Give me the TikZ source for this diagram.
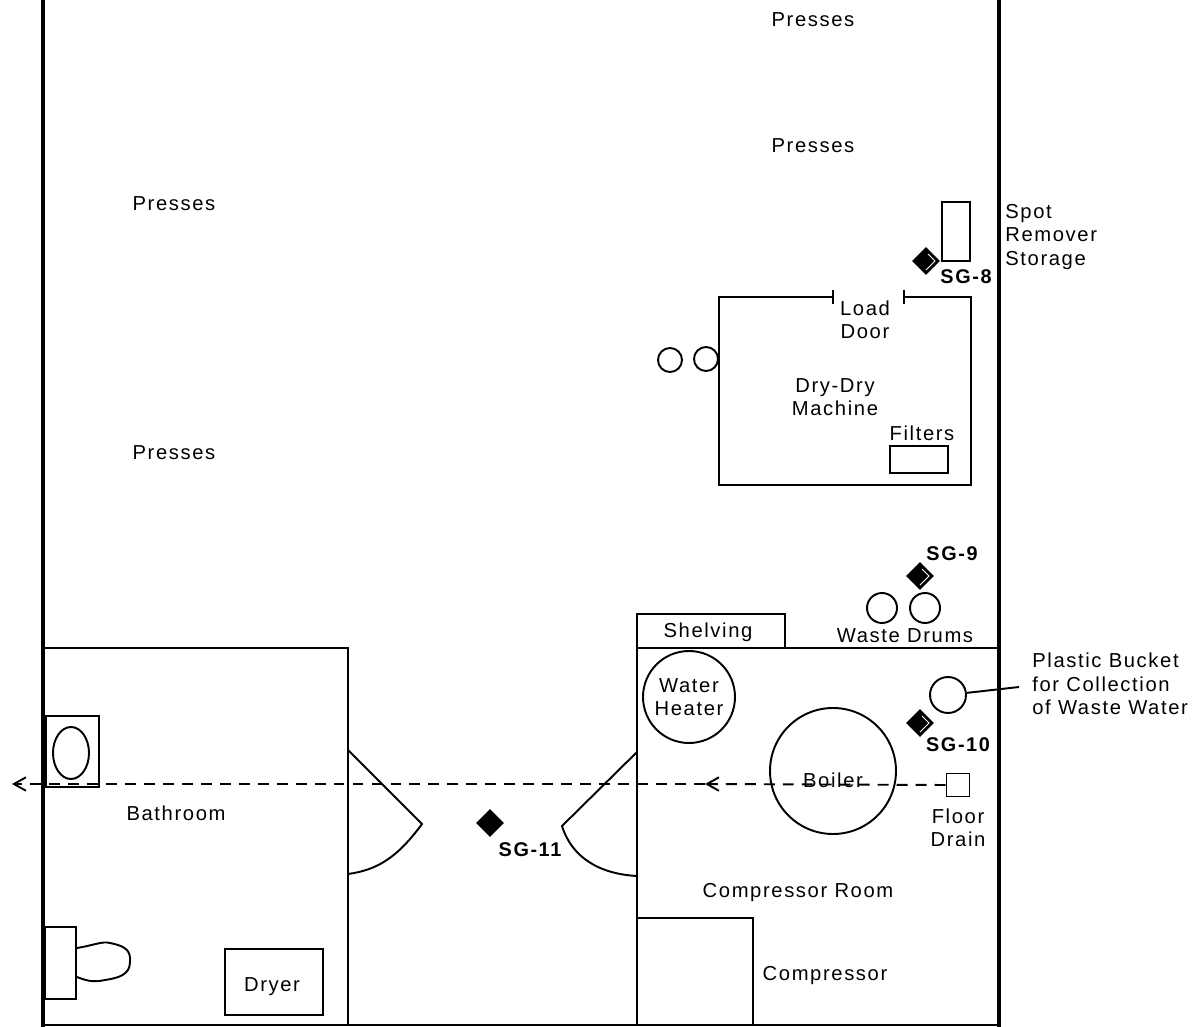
\documentclass[tikz,border=0pt]{standalone}
\usepackage{fontspec}
\setmainfont[LetterSpace=8]{Liberation Sans}
\usetikzlibrary{shapes.geometric,arrows.meta}
\tikzset{
  >={Straight Barb[length=0.24cm,width=0.27cm]},
  wall/.style={line width=2.4pt},
  part/.style={line width=1.1pt},
  flow/.style={line width=1.1pt,dash pattern=on 6.2pt off 4.6pt},
  label/.style={font=\fontsize{11.5}{13.4}\selectfont,align=center,inner sep=0pt},
  sglabel/.style={font=\fontsize{11.3}{13.4}\selectfont\bfseries,inner sep=0pt},
  sgmark/.style={diamond,fill=black,inner sep=0pt,minimum size=0.56cm},
  round/.style={circle,draw,part,inner sep=0pt},
}

\begin{document}
\begin{tikzpicture}[x=0.02cm,y=-0.02cm]
    \useasboundingbox (0,0) rectangle (1198,1027);
    % outer walls
    \begin{scope}[wall]
      \draw (43,0)--(43,1027);
      \draw (999,0)--(999,1027);
      \draw (45,716)--(45,787);
      \draw (44,927)--(44,999);
    \end{scope}
    \draw[line width=.7pt] (43,1025)--(999,1025);
    \begin{scope}[part]
      % bathroom
      \draw (43,648)--(348,648)--(348,1025);
      \draw (348,750)--(422,824) .. controls (397,858) and (377,870) .. (348,874);
      \draw (46,716) rectangle (99,787);
      \draw (71,753) ellipse (18 and 26);
      \draw (45,927) rectangle (76,999);
      \draw (77,948) .. controls (95,945) and (102,941) .. (110,943)
        .. controls (125,946) and (131,950) .. (130,962)
        .. controls (130,975) and (118,978) .. (105,980)
        .. controls (92,983) and (85,980) .. (77,977);
      \draw (225,949) rectangle (323,1015);
      % compressor room
      \draw (999,648)--(637,648)--(637,1025);
      \draw (637,752)--(562,826) .. controls (572,858) and (600,874) .. (637,876);
      \draw (637,614) rectangle (785,648);
      \draw (637,918) rectangle (753,1025);
      \draw (689,697) circle (46);
      \draw (833,771) circle (63);
      % dry-dry machine
      \draw (833,290)--(833,304);
      \draw (904,290)--(904,304);
      \draw (833,297)--(719,297)--(719,485)--(971,485)--(971,297)--(904,297);
      \draw (890,446) rectangle (948,473);
      \draw (670,360) circle (12);
      \draw (706,359) circle (12);
      \draw (942,202) rectangle (970,261);
      % waste drums
      \draw (882,608) circle (15);
      \draw (925,608) circle (15);
    \end{scope}

    \node[round,minimum size=0.72cm] (bucket) at (948,695) {};
    \coordinate (bucketend) at (1019,687);
    \draw[part] (bucket)--(bucketend);

    \node[draw,part,inner sep=0pt,minimum size=0.46cm] (drain) at (958,785) {};
    \coordinate (flowmid) at (705,784);
    \coordinate (flowend) at (12,784);
    \draw[flow,->] (drain.west)--(flowmid);
    \draw[flow,->] (flowmid)--(flowend);

    \node[sgmark] (sg8) at (926,261) {};
    \node[sgmark] (sg9) at (920,576) {};
    \node[sgmark] (sg10) at (920,723) {};
    \node[sgmark] (sg11) at (490,823) {};
    \foreach \n in {sg8,sg9,sg10}
      \draw[white,line width=.5pt] ([shift={(2,-7)}]\n.center)--([shift={(9,0)}]\n.center)--([shift={(0,9)}]\n.center);
    \node[sglabel] at (966,277) {SG-8};
    \node[sglabel] at (952,554) {SG-9};
    \node[sglabel] at (958,745) {SG-10};
    \node[sglabel] at (530,850) {SG-11};

    \node[label] at (813,20) {Presses};
    \node[label] at (813,146) {Presses};
    \node[label] at (174,204) {Presses};
    \node[label] at (174,453) {Presses};
    \node[label,anchor=west,align=left] at (1005,237) {Spot\\Remover\\Storage};
    \node[label] at (865,320) {Load\\Door};
    \node[label] at (835,397) {Dry-Dry\\Machine};
    \node[label] at (922,433) {Filters};
    \node[label] at (708,632) {Shelving};
    \node[label] at (905,636) {Waste Drums};
    \node[label,anchor=west,align=left] at (1032,684) {Plastic Bucket\\for Collection\\of Waste Water};
    \node[label] at (689,697) {Water\\Heater};
    \node[label] at (833,780) {Boiler};
    \node[label] at (958,828) {Floor\\Drain};
    \node[label] at (798,893) {Compressor Room};
    \node[label] at (825,976) {Compressor};
    \node[label] at (176,813) {Bathroom};
    \node[label] at (272,987) {Dryer};
  \end{tikzpicture}
\end{document}
